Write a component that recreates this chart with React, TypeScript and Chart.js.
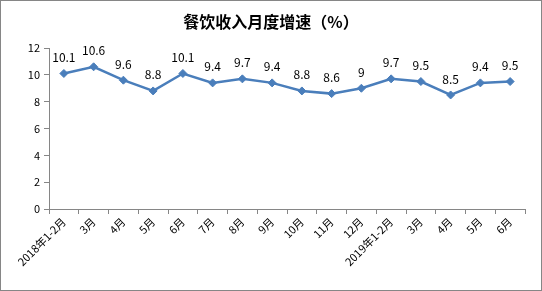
import React, { useEffect, useRef } from "react";
import { Chart, registerables } from "chart.js";

Chart.register(...registerables);

const categories = [
  "2018年1-2月", "3月", "4月", "5月", "6月", "7月", "8月", "9月", "10月", "11月", "12月",
  "2019年1-2月", "3月", "4月", "5月", "6月",
];
const growth = [10.1, 10.6, 9.6, 8.8, 10.1, 9.4, 9.7, 9.4, 8.8, 8.6, 9, 9.7, 9.5, 8.5, 9.4, 9.5];
const titleText = "餐饮收入月度增速（%）";

const FONT = "'Noto Sans CJK SC', 'Liberation Sans', sans-serif";

const overlay = {
  id: "overlay",
  afterDatasetsDraw(chart: any) {
    const ctx = chart.ctx;
    ctx.save();
    ctx.fillStyle = "#000";
    ctx.font = `bold 16px ${FONT}`;
    ctx.textAlign = "center";
    ctx.textBaseline = "middle";
    ctx.fillText(titleText, chart.width / 2, 22);
    ctx.font = `12px ${FONT}`;
    ctx.textBaseline = "bottom";
    const meta = chart.getDatasetMeta(0);
    meta.data.forEach((pt: any, i: number) => {
      ctx.fillText(String(growth[i]), pt.x, pt.y - 10);
    });
    ctx.strokeStyle = "#868686";
    ctx.lineWidth = 1;
    ctx.strokeRect(0.5, 0.5, chart.width - 1, chart.height - 1);
    ctx.restore();
  },
};

export default function App() {
  const ref = useRef<HTMLCanvasElement>(null);
  useEffect(() => {
    document.body.style.margin = "0";
    const chart = new Chart(ref.current!, {
      type: "line",
      data: {
        labels: categories,
        datasets: [
          {
            data: growth,
            borderColor: "#4A7EBB",
            backgroundColor: "#4A7EBB",
            borderWidth: 2.5,
            pointStyle: "rectRot",
            pointRadius: 4,
            pointBorderWidth: 1,
            tension: 0,
          },
        ],
      },
      plugins: [overlay],
      options: {
        responsive: false,
        animation: false,
        layout: { padding: { top: 48, right: 17, left: 0, bottom: 0 } },
        plugins: { legend: { display: false }, title: { display: false }, tooltip: { enabled: false } },
        scales: {
          x: {
            offset: true,
            grid: { offset: true, drawOnChartArea: false, drawTicks: true, tickLength: 5, color: "#868686" },
            border: { color: "#868686" },
            ticks: {
              autoSkip: false,
              maxRotation: 45,
              minRotation: 45,
              color: "#000",
              font: { size: 11, family: FONT },
              padding: 1,
            },
            afterFit(scale: any) {
              scale.height = 82;
              scale.paddingLeft = 0;
              scale.paddingRight = 0;
            },
          },
          y: {
            min: 0,
            max: 12,
            grid: { drawOnChartArea: false, drawTicks: true, tickLength: 5, color: "#868686" },
            border: { color: "#868686" },
            ticks: {
              stepSize: 2,
              color: "#000",
              font: { size: 11, family: FONT },
              padding: 4,
            },
            afterFit(scale: any) {
              scale.width = 49;
              scale.paddingTop = 0;
              scale.paddingBottom = 0;
            },
          },
        },
      },
    });
    return () => chart.destroy();
  }, []);
  return <canvas ref={ref} width={542} height={291} style={{ display: "block" }} />;
}
